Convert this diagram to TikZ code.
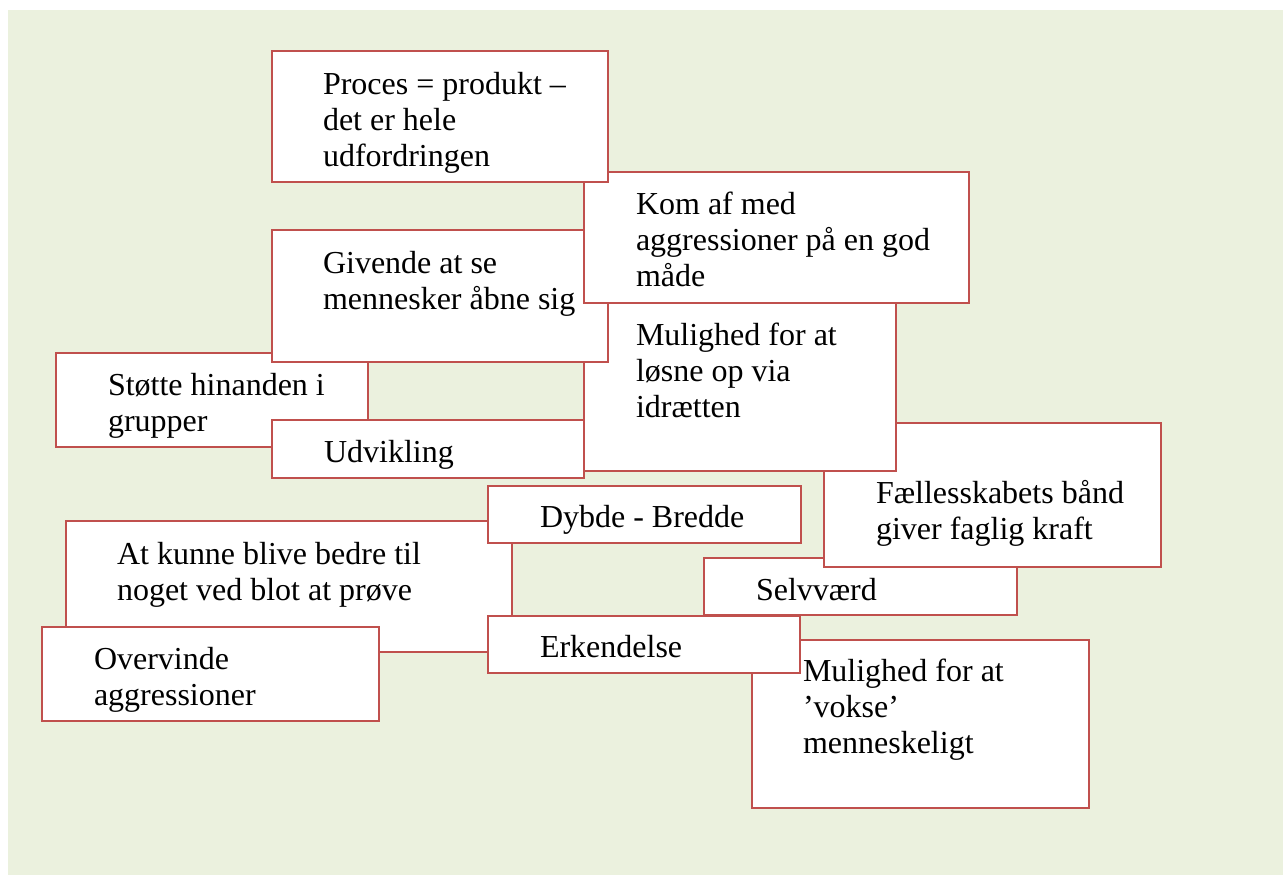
\documentclass[tikz,border=0pt]{standalone}
\usepackage{fontspec}
\setmainfont{Liberation Serif}
\usetikzlibrary{calc}
\definecolor{bggreen}{HTML}{EBF1DE}
\definecolor{bordred}{HTML}{C0504D}
\newcommand{\txtlines}[1]{\parbox[t]{400pt}{\raggedright #1}}
\begin{document}
\begin{tikzpicture}[x=0.75pt,y=-0.75pt,
  bx/.style 2 args={draw=bordred, line width=1.5pt, fill=white, rectangle,
    anchor=north west, inner sep=0pt, outer sep=0pt,
    minimum width=#1*0.75pt, minimum height=#2*0.75pt},
  tx/.style={anchor=base west, inner sep=0pt, outer sep=0pt,
    font=\fontsize{24}{27}\selectfont}]
\useasboundingbox (0,0) rectangle (1283,875);
\fill[bggreen] (8,10) rectangle (1283,875);

% Selvvaerd
\node[bx={313}{57}] (selv) at (704,558) {};
\node[tx] (selvt) at ($(selv.north west)+(52,42)$) {\txtlines{Selvværd}};
% Faellesskabets
\node[bx={337}{144}] (faell) at (824,423) {};
\node[tx] (faellt) at ($(faell.north west)+(52,80)$) {\txtlines{Fællesskabets bånd\\giver faglig kraft}};
% Mulighed loesne
\node[bx={312}{168}] (loesne) at (584,303) {};
\node[tx] (loesnet) at ($(loesne.north west)+(52,42)$) {\txtlines{Mulighed for at\\løsne op via\\idrætten}};
% Stoette
\node[bx={312}{94}] (stoette) at (56,353) {};
\node[tx] (stoettet) at ($(stoette.north west)+(52,42)$) {\txtlines{Støtte hinanden i\\grupper}};
% Givende
\node[bx={336}{132}] (givende) at (272,230) {};
\node[tx] (givendet) at ($(givende.north west)+(51,43)$) {\txtlines{Givende at se\\mennesker åbne sig}};
% Kom af med
\node[bx={385}{131}] (kom) at (584,172) {};
\node[tx] (komt) at ($(kom.north west)+(52,42)$) {\txtlines{Kom af med\\aggressioner på en god\\måde}};
% Proces
\node[bx={336}{131}] (proces) at (272,51) {};
\node[tx] (procest) at ($(proces.north west)+(51,43)$) {\txtlines{Proces = produkt –\\det er hele\\udfordringen}};
% Udvikling
\node[bx={312}{58}] (udv) at (272,420) {};
\node[tx] (udvt) at ($(udv.north west)+(52,42)$) {\txtlines{Udvikling}};
% Mulighed vokse
\node[bx={337}{168}] (vokse) at (752,640) {};
\node[tx] (vokset) at ($(vokse.north west)+(51,41)$) {\txtlines{Mulighed for at\\’vokse’\\menneskeligt}};
% At kunne
\node[bx={446}{131}] (kunne) at (66,521) {};
\node[tx] (kunnet) at ($(kunne.north west)+(51,43)$) {\txtlines{At kunne blive bedre til\\noget ved blot at prøve}};
% Dybde
\node[bx={313}{57}] (dybde) at (488,486) {};
\node[tx] (dybdet) at ($(dybde.north west)+(52,41)$) {\txtlines{Dybde - Bredde}};
% Erkendelse
\node[bx={312}{57}] (erk) at (488,616) {};
\node[tx] (erkt) at ($(erk.north west)+(52,41)$) {\txtlines{Erkendelse}};
% Overvinde
\node[bx={337}{94}] (overv) at (42,627) {};
\node[tx] (overvt) at ($(overv.north west)+(52,42)$) {\txtlines{Overvinde\\aggressioner}};
\end{tikzpicture}
\end{document}
